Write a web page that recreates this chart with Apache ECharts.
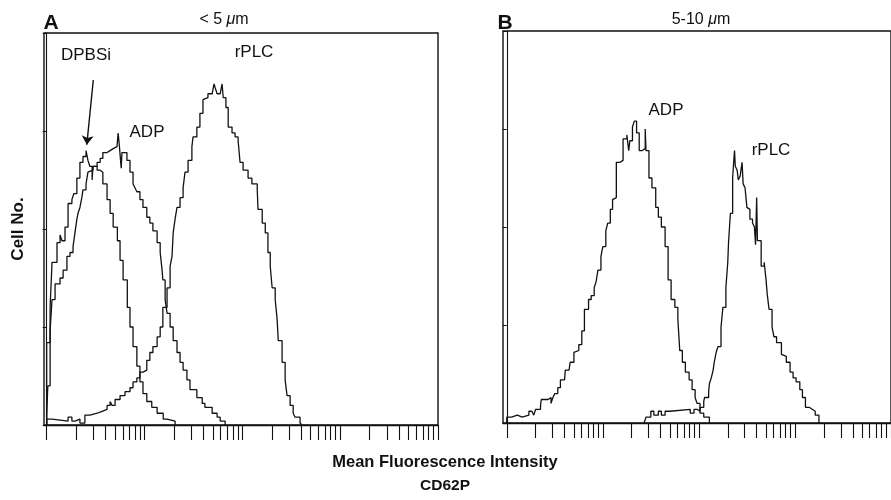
<!DOCTYPE html>
<html><head><meta charset="utf-8">
<script src="https://cdn.jsdelivr.net/npm/echarts@6/dist/echarts.min.js"></script>
<style>html,body{margin:0;padding:0;background:#fff}#c{width:891px;height:500px}</style>
</head><body><div id="c"></div>
<script>
// Log-scale tick marks (fluorescence intensity, 4 decades)
const tickIntensities = [1,2,3,4,5,6,7,8,9,10,20,30,40,50,60,70,80,90,100,200,300,400,500,600,700,800,900,1000,2000,3000,4000,5000,6000,7000,8000,9000,10000];

// Panel A (< 5 um) : channel (0-1023, 256 per decade) and cell counts
const chA_DPBSi = [0,9,14,27,35,40,48,56,66,71,79,87,95,103,108,113,119,121,132,140,147,158,166,174,185,192,200,211,218,226,236,244,252,262,275,289,305,315,336];
const cntA_DPBSi = [42,60,83,93,97,94,101,113,115,118,126,134,137,140,135,132,125,132,130,129,123,115,108,101,94,84,74,60,50,40,30,22,16,12,9,6,3,2,0];

const chA_ADP = [0,3,9,14,22,35,43,53,61,69,74,79,82,87,92,95,103,108,113,121,132,140,147,158,166,174,184,187,190,195,197,210,218,226,231,236,244,252,262,270,278,289,297,302,304,310,315,323,331,341,349,357,367,375,393,407,414,433,446,454,467];
const cntA_ADP = [5,20,48,64,72,75,79,86,88,91,98,105,108,111,116,120,123,129,130,132,134,136,139,140,141,142,143,149,143,131,139,135,129,123,121,119,115,111,106,103,99,93,88,79,74,64,57,50,43,37,32,28,23,18,14,11,9,6,4,2,0];

const chA_rPLC = [0,14,56,66,74,87,100,113,132,145,158,166,171,179,192,205,218,226,236,244,252,262,270,278,289,297,304,315,323,328,331,336,341,349,357,362,370,380,383,393,401,409,414,422,433,438,441,446,454,459,462,469,475,485,493,501,506,514,527,537,551,553,564,572,579,585,590,598,603,606,616,624,629,637,645,650,663,668];
const cntA_rPLC = [3,2,4,2,3,1,5,6,7,8,10,12,10,13,15,17,19,22,24,27,28,33,37,40,45,50,60,70,81,86,98,105,111,116,121,129,135,142,147,152,159,166,167,169,170,174,172,169,168,174,167,162,152,149,147,145,134,130,126,123,120,110,103,98,88,81,70,64,54,43,32,23,15,10,6,4,1,0];

// Panel B (5-10 um)
const chB_ADP = [0,13,28,41,59,67,72,77,90,92,110,118,123,128,136,143,154,156,166,169,179,182,192,200,207,218,225,233,238,243,251,256,264,269,276,282,287,292,302,310,320,325,328,335,340,346,353,361,369,371,379,387,397,404,412,422,430,438,448,456,461,468,476,486,494,502,507,515,525,532,540];
const cntB_ADP = [3,4,3,4,6,7,4,7,9,12,13,10,13,15,18,22,23,27,28,31,36,37,40,47,58,63,65,69,72,78,85,90,98,102,109,114,115,133,134,145,147,139,144,151,154,148,139,140,150,139,125,120,110,105,100,90,73,63,59,53,37,31,26,22,17,13,10,5,3,3,0];

const chB_rPLC = [366,371,384,392,404,412,422,435,489,499,507,515,525,527,538,540,545,550,553,558,563,571,576,584,589,591,596,602,604,607,609,614,617,622,627,630,635,640,643,648,655,660,663,666,668,678,686,691,694,699,707,712,719,732,737,745,755,763,771,781,788,796,806,814,822,832];
const cntB_rPLC = [0,3,6,4,6,4,6,7,5,7,6,8,11,13,16,20,23,27,31,36,39,49,59,69,82,92,107,125,131,139,131,129,124,126,133,122,120,110,109,104,102,100,91,115,93,80,82,73,66,58,49,44,41,35,34,31,26,23,21,17,13,8,7,6,4,0];

// Arrow pointing at the DPBSi peak: [channel, count] start and end
const arrowDPBSi = [[122, 176], [105, 143]];

const yMax = 200, yStep = 50;

const toCh = v => 256 * Math.log10(v);
const tickCh = tickIntensities.map(toCh);
const pairs = (xs, ys) => {
  const d = xs.map((x, i) => [x, ys[i]]);
  if (ys[0] > 0) d.unshift([xs[0], 0]);
  return d;
};

const FONT = '"Liberation Sans", Arial, Helvetica, sans-serif';
const INK = '#111';

function xAxisFor(gi, min) {
  return {
    type: 'value', gridIndex: gi, min: min, max: 1024,
    axisLine: { show: true, onZero: false, lineStyle: { color: INK, width: 1.3 } },
    axisTick: { show: true, inside: false, length: 15, customValues: tickCh, lineStyle: { color: INK, width: 1.1 } },
    axisLabel: { show: false },
    splitLine: { show: false }
  };
}
function yAxisFor(gi, name) {
  return {
    type: 'value', gridIndex: gi, min: 0, max: yMax, interval: yStep,
    name: name, nameLocation: 'middle', nameGap: 17, nameRotate: 90,
    nameTextStyle: { fontFamily: FONT, fontWeight: 'bold', fontSize: 17, color: INK },
    axisLine: { show: true, lineStyle: { color: INK, width: 1.1 } },
    axisTick: { show: true, inside: false, length: 4, lineStyle: { color: INK, width: 1 } },
    axisLabel: { show: false },
    splitLine: { show: false }
  };
}
function histSeries(name, xi, xs, ys, extra) {
  return Object.assign({
    name: name, type: 'line', xAxisIndex: xi, yAxisIndex: xi,
    step: 'end', symbol: 'none', showSymbol: false,
    lineStyle: { color: INK, width: 1.3 },
    data: pairs(xs, ys), z: 3
  }, extra || {});
}

const txt = (text, x, y, size, weight, extra) => ({
  type: 'text', x: x, y: y, silent: true,
  style: Object.assign({
    text: text, fill: INK, font: (weight || 'normal') + ' ' + size + 'px ' + FONT,
    align: 'center', verticalAlign: 'middle',
    rich: { i: { fontStyle: 'italic', fontSize: size, fontFamily: FONT, fill: INK } }
  }, extra || {})
});

const chart = echarts.init(document.getElementById('c'), null, { renderer: 'canvas' });
chart.setOption({
  animation: false,
  backgroundColor: '#fff',
  grid: [
    { left: 44, top: 33, width: 394, height: 392, show: true, borderColor: INK, borderWidth: 1.4, backgroundColor: 'transparent' },
    { left: 503, top: 31, width: 404, height: 392, show: true, borderColor: INK, borderWidth: 1.4, backgroundColor: 'transparent' }
  ],
  xAxis: [xAxisFor(0, -7), xAxisFor(1, -10)],
  yAxis: [yAxisFor(0, 'Cell No.'), yAxisFor(1, '')],
  series: [
    histSeries('DPBSi', 0, chA_DPBSi, cntA_DPBSi, {
      markLine: {
        silent: true, symbol: ['none', 'arrow'], symbolSize: 9,
        label: { show: false },
        lineStyle: { color: INK, width: 1.4, type: 'solid' },
        data: [[{ coord: arrowDPBSi[0] }, { coord: arrowDPBSi[1] }]]
      }
    }),
    histSeries('ADP', 0, chA_ADP, cntA_ADP),
    histSeries('rPLC', 0, chA_rPLC, cntA_rPLC),
    histSeries('ADP', 1, chB_ADP, cntB_ADP),
    histSeries('rPLC', 1, chB_rPLC, cntB_rPLC)
  ],
  graphic: [
    txt('A', 51, 23, 21, 'bold'),
    txt('< 5 {i|μ}m', 224, 20, 16, 'normal'),
    txt('B', 505, 23, 21, 'bold'),
    txt('5-10 {i|μ}m', 701, 20, 16, 'normal'),
    txt('DPBSi', 86, 55, 17, 'normal'),
    txt('ADP', 147, 132, 17, 'normal'),
    txt('rPLC', 254, 52, 17, 'normal'),
    txt('ADP', 666, 110, 17, 'normal'),
    txt('rPLC', 771, 150, 17, 'normal'),
    txt('Mean Fluorescence Intensity', 445, 462, 16.5, 'bold'),
    txt('CD62P', 445, 486, 15.5, 'bold')
  ]
});
</script>
</body></html>
